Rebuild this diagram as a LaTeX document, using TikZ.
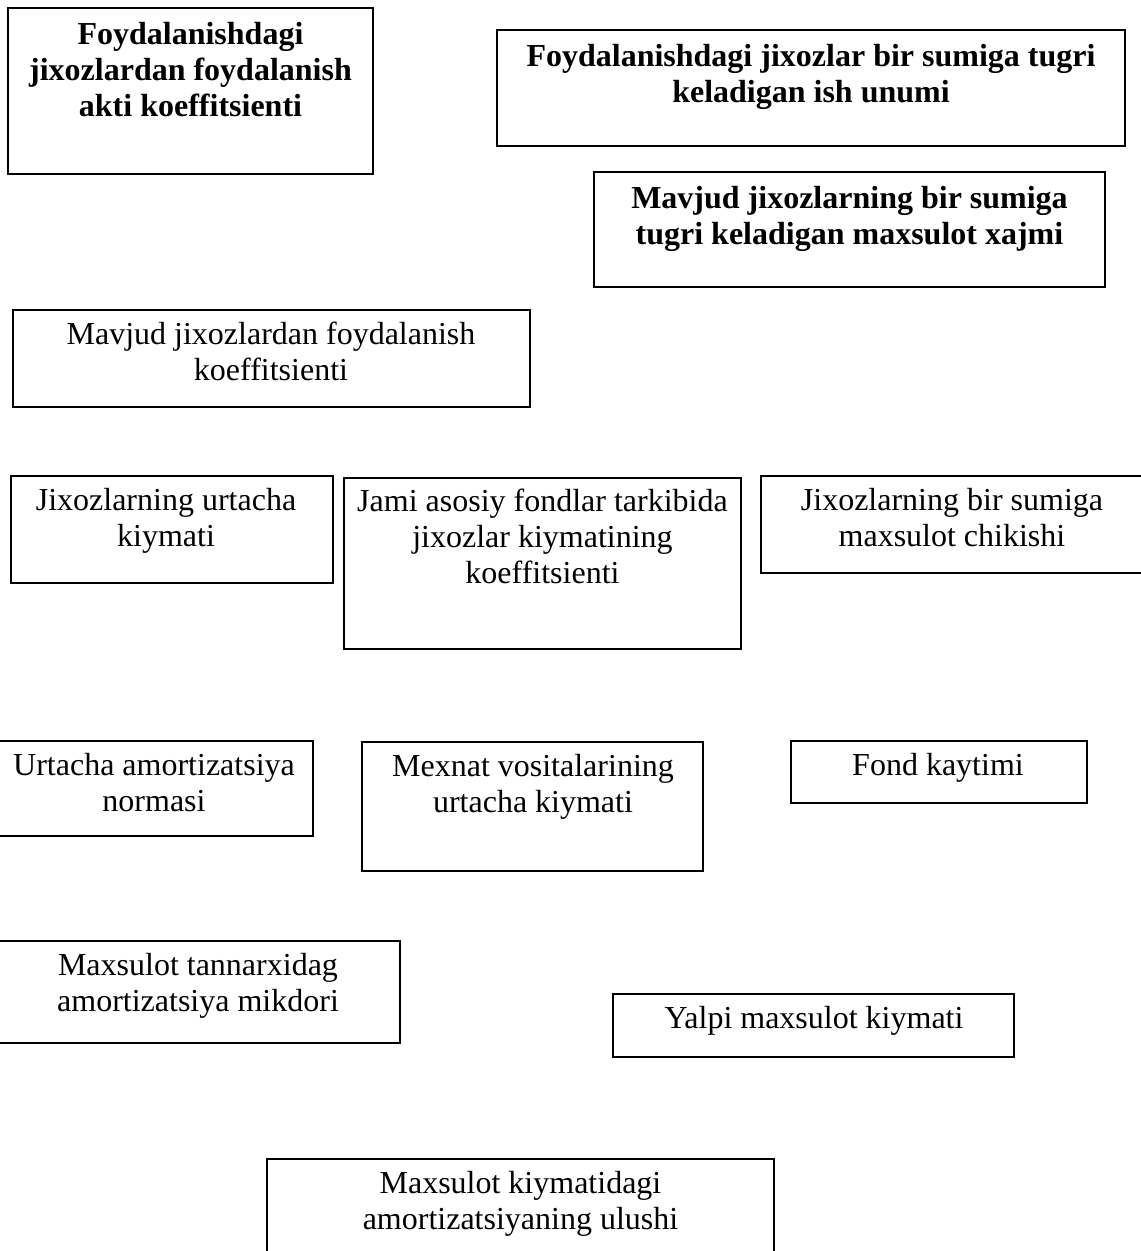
\documentclass[tikz,border=0pt]{standalone}
\usepackage{fontspec}
\setmainfont{Liberation Serif}
\begin{document}
\begin{tikzpicture}[x=1pt,y=-1pt,
  box/.style={draw, line width=1.7pt, inner sep=0pt, outer sep=0pt, anchor=north west},
  lbl/.style={anchor=base, inner sep=0pt, font=\fontsize{32}{36}\selectfont},
  blbl/.style={lbl, font=\fontsize{32}{36}\selectfont\bfseries}]
\useasboundingbox (0,0) rectangle (1141,1251);

% boxes: top-left corner, width, height
\node[box, minimum width=365pt, minimum height=166pt] (a) at (8,8) {};
\node[box, minimum width=628pt, minimum height=116pt] (b) at (497,30) {};
\node[box, minimum width=511pt, minimum height=115pt] (c) at (594,172) {};
\node[box, minimum width=517pt, minimum height=97pt]  (d) at (13,310) {};
\node[box, minimum width=322pt, minimum height=107pt] (e) at (11,476) {};
\node[box, minimum width=397pt, minimum height=171pt] (f) at (344,478) {};
\node[box, minimum width=384pt, minimum height=97pt]  (g) at (761,476) {};
\node[box, minimum width=318pt, minimum height=95pt]  (h) at (-5,741) {};
\node[box, minimum width=341pt, minimum height=129pt] (i) at (362,742) {};
\node[box, minimum width=296pt, minimum height=62pt]  (j) at (791,741) {};
\node[box, minimum width=404pt, minimum height=102pt] (k) at (-4,941) {};
\node[box, minimum width=401pt, minimum height=63pt]  (l) at (613,994) {};
\node[box, minimum width=507pt, minimum height=130pt] (m) at (267,1159) {};

% labels, placed on the baseline of their first line
\node[blbl] (a-t) at (190.5,44) {\begin{tabular}[t]{@{}c@{}}Foydalanishdagi\\jixozlardan foydalanish\\akti koeffitsienti\end{tabular}};
\node[blbl] (b-t) at (811,66) {\begin{tabular}[t]{@{}c@{}}Foydalanishdagi jixozlar bir sumiga tugri\\keladigan ish unumi\end{tabular}};
\node[blbl] (c-t) at (849.5,208) {\begin{tabular}[t]{@{}c@{}}Mavjud jixozlarning bir sumiga\\tugri keladigan maxsulot xajmi\end{tabular}};
\node[lbl] (d-t) at (271,344) {\begin{tabular}[t]{@{}c@{}}Mavjud jixozlardan foydalanish\\koeffitsienti\end{tabular}};
\node[lbl] (e-t) at (166,510) {\begin{tabular}[t]{@{}c@{}}Jixozlarning urtacha\\kiymati\end{tabular}};
\node[lbl] (f-t) at (542.5,511) {\begin{tabular}[t]{@{}c@{}}Jami asosiy fondlar tarkibida\\jixozlar kiymatining\\koeffitsienti\end{tabular}};
\node[lbl] (g-t) at (952,510) {\begin{tabular}[t]{@{}c@{}}Jixozlarning bir sumiga\\maxsulot chikishi\end{tabular}};
\node[lbl] (h-t) at (154,775) {\begin{tabular}[t]{@{}c@{}}Urtacha amortizatsiya\\normasi\end{tabular}};
\node[lbl] (i-t) at (533,776) {\begin{tabular}[t]{@{}c@{}}Mexnat vositalarining\\urtacha kiymati\end{tabular}};
\node[lbl] (j-t) at (938,775) {Fond kaytimi};
\node[lbl] (k-t) at (198,975) {\begin{tabular}[t]{@{}c@{}}Maxsulot tannarxidag\\amortizatsiya mikdori\end{tabular}};
\node[lbl] (l-t) at (814,1028) {Yalpi maxsulot kiymati};
\node[lbl] (m-t) at (520.5,1193) {\begin{tabular}[t]{@{}c@{}}Maxsulot kiymatidagi\\amortizatsiyaning ulushi\end{tabular}};
\end{tikzpicture}
\end{document}
